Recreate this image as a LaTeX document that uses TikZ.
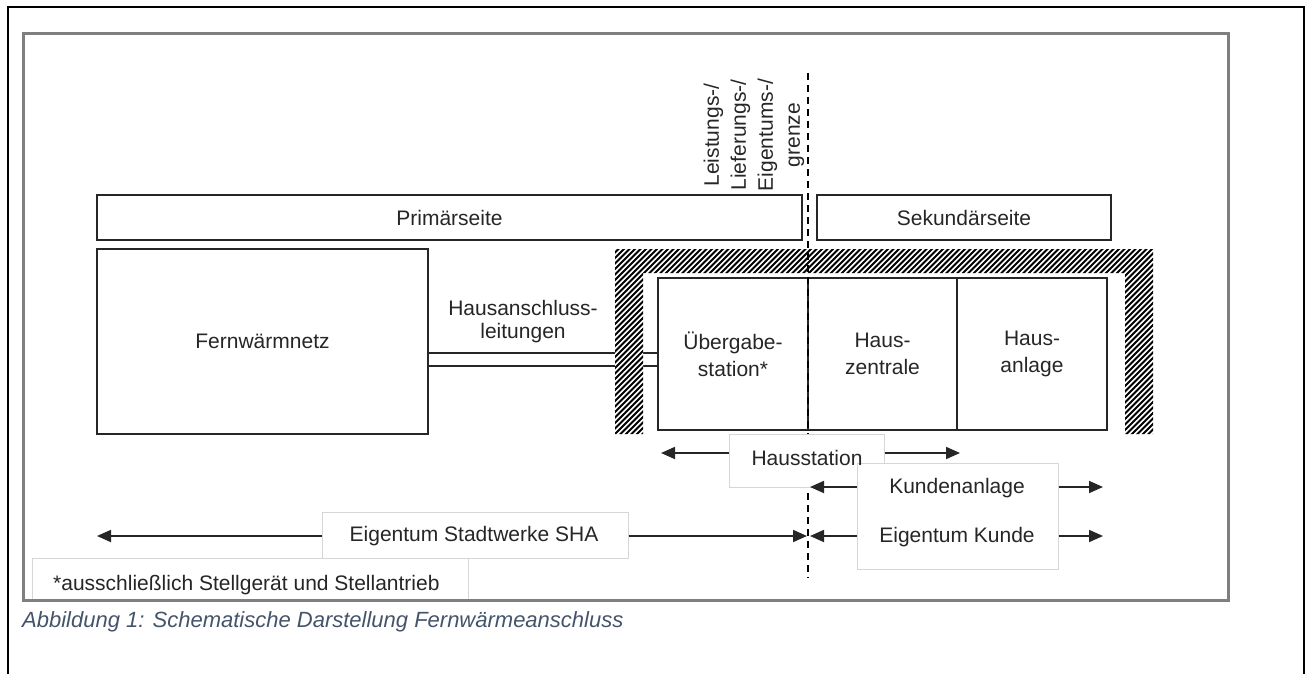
\documentclass[tikz,border=0pt]{standalone}
\usepackage{fontspec}
\setmainfont{Liberation Sans}
\usetikzlibrary{arrows.meta}
\definecolor{txt}{HTML}{262626}
\definecolor{framegray}{HTML}{7F7F7F}
\definecolor{lbox}{HTML}{D6D6D6}
\definecolor{capcol}{HTML}{44546A}
\begin{document}
\begin{tikzpicture}[x=1pt,y=-1pt,
  box/.style={draw=txt, line width=1.8pt, inner sep=0pt, text=txt, align=center, font=\fontsize{21}{27}\selectfont},
  lbl/.style={draw=lbox, line width=1pt, fill=white, inner sep=0pt},
  txtn/.style={inner sep=0pt, text=txt, align=center, font=\fontsize{21}{23}\selectfont},
  arr/.style={draw=txt, line width=1.8pt, -{Triangle[length=14pt,width=12pt]}},
  ]
\useasboundingbox (0,0) rectangle (1306,674);
% page border
\draw[line width=2.5pt] (8,674) -- (8,7) -- (1304,7) -- (1304,674);

% top boxes
\node[box, minimum width=705, minimum height=45] (prim) at (449.5,217.5) {Primärseite};
\node[box, minimum width=294, minimum height=45] (sek) at (964,217.5) {Sekundärseite};

% main boxes
\node[box, minimum width=331, minimum height=185] (fw) at (262.5,341.5) {Fernwärmnetz};
\node[box, minimum width=150, minimum height=152] (ub) at (733,354) {Übergabe-\\station*};
\node[box, minimum width=149, minimum height=152] (hz) at (882.5,354) {Haus-\\zentrale};
\node[box, minimum width=150, minimum height=152] (ha) at (1032,354) {Haus-\\anlage};

% pipes
\coordinate (p1) at (0,353);
\coordinate (p2) at (0,366);
\draw[line width=1.6pt, txt] (fw.east |- p1) -- (ub.west |- p1);
\draw[line width=1.6pt, txt] (fw.east |- p2) -- (ub.west |- p2);
\node[txtn] (hal) at (523,322) {Hausanschluss-\\leitungen};

% hatched wall
\begin{scope}
\clip (615,249) -- (1153,249) -- (1153,434) -- (1125,434) -- (1125,273) -- (643,273) -- (643,434) -- (615,434) -- cycle;
\fill[white] (600,240) rectangle (1160,440);
\foreach \a in {400,405.5,...,1160} \draw[line width=1.9pt] (\a,440) -- (\a+200,240);
\end{scope}

% boundary
\coordinate (gtop) at (808,73);
\coordinate (gbot) at (808,578);
\draw[line width=2pt, dash pattern=on 7pt off 5pt] (gtop) -- (gbot);
\node[txtn, rotate=90, font=\fontsize{21}{27}\selectfont] (grenze) at (754,135) {Leistungs-/\\Lieferungs-/\\Eigentums-/\\grenze};

% Hausstation and Kunde label boxes
\node[lbl, minimum width=155, minimum height=53] (hs) at (806.5,460.5) {};
\node[lbl, minimum width=201, minimum height=106] (ku) at (957.5,516) {};
\node[txtn] (hst) at (807,458) {Hausstation};
\node[txtn] (kat) at (957,488) {Kundenanlage};
\node[txtn] (ekt) at (957,537) {Eigentum Kunde};
\coordinate (hsy) at (0,453);
\coordinate (hsL) at (661,453);
\coordinate (hsR) at (960,453);
\draw[arr] (hs.west |- hsy) -- (hsL);
\draw[arr] (hs.east |- hsy) -- (hsR);
\coordinate (kaL) at (810,487);
\coordinate (kaR) at (1103,487);
\coordinate (ekL) at (810,536);
\coordinate (ekR) at (1103,536);
\draw[arr] (ku.west |- kaL) -- (kaL);
\draw[arr] (ku.east |- kaR) -- (kaR);
\draw[arr] (ku.west |- ekL) -- (ekL);
\draw[arr] (ku.east |- ekR) -- (ekR);

% footnote
\node[lbl, minimum width=436, minimum height=42, anchor=north west] (fnb) at (32,558) {};
\node[txtn, anchor=west] (fn) at (53,585) {*ausschließlich Stellgerät und Stellantrieb};

% Eigentum Stadtwerke
\node[lbl, minimum width=306, minimum height=46] (es) at (475,535) {};
\node[txtn] (est) at (474,536) {Eigentum Stadtwerke SHA};
\coordinate (esL) at (97,536);
\coordinate (esR) at (807,536);
\draw[arr] (es.west |- esL) -- (esL);
\draw[arr] (es.east |- esR) -- (esR);

% frame
\draw[framegray, line width=3pt] (23,34) rectangle (1228,600);

% caption
\node[anchor=west, inner sep=0pt, text=capcol, font=\fontsize{22}{26}\selectfont\itshape] (cap) at (22,622) {Abbildung 1: Schematische Darstellung Fernwärmeanschluss};
\end{tikzpicture}
\end{document}
